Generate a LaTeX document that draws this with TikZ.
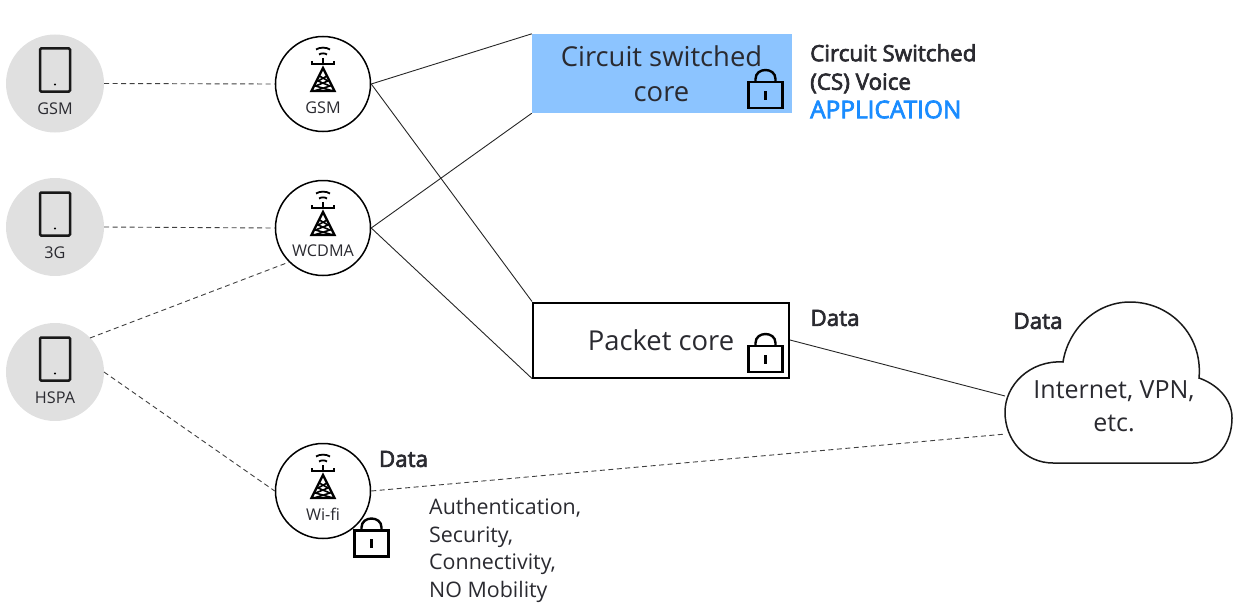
\documentclass[tikz,border=0pt]{standalone}
\usepackage{fontspec}
\setmainfont{Open Sans}
\newfontface\semib[FakeBold=3]{Open Sans}
\definecolor{txt}{HTML}{2A2A30}
\definecolor{csblue}{HTML}{8CC4FF}
\definecolor{appblue}{HTML}{1A8CFF}
\definecolor{phonegray}{HTML}{E0E0E0}
\tikzset{
  x=1pt,y=-1pt,
  phonecirc/.style={circle,fill=phonegray,minimum size=98pt,inner sep=0pt},
  towercirc/.style={circle,draw=black,line width=1.5pt,fill=white,minimum size=95pt,inner sep=0pt},
  smalltxt/.style={font=\fontsize{16.2}{18}\selectfont,text=txt,inner sep=0pt},
  bigtxt/.style={font=\fontsize{27.4}{35}\selectfont,text=txt,align=center,inner sep=0pt},
  midtxt/.style={font=\fontsize{21.4}{27.6}\selectfont,text=txt,align=left,inner sep=0pt},
  cloudtxt/.style={font=\fontsize{25}{33}\selectfont,text=txt,align=center,inner sep=0pt},
  labtxt/.style={font=\fontsize{22.4}{28.5}\selectfont\semib,text=txt,align=left,inner sep=0pt},
  solidlink/.style={draw=black!85,line width=0.9pt},
  dashlink/.style={draw=black!75,line width=0.9pt,dash pattern=on 5pt off 3.5pt},
  phoneicon/.pic={
    \draw[black!90,line width=2.5pt,rounded corners=1.2pt] (-15,-21.5) rectangle (15,21.5);
    \fill[black] (0,14.5) circle (1.1);
  },
  towericon/.pic={
    \draw[black,line width=1.8pt] (-7,-34.5) .. controls (-3,-37) and (3,-37) .. (7,-34.5);
    \draw[black,line width=1.8pt] (-4,-29.5) .. controls (-2,-31) and (2,-31) .. (4,-29.5);
    \draw[black,line width=2.4pt] (-12,-20) -- (12,-20);
    \draw[black,line width=1.6pt] (-11,-23) -- (-11,-20) (11,-23) -- (11,-20) (0,-26) -- (0,-20);
    \draw[black,line width=2.4pt,line join=miter] (0,-16) -- (-11.5,7) -- (11.5,7) -- cycle;
    \draw[black,line width=1.6pt] (-3.5,-8) -- (5,-3) -- (-7.5,2) -- (10,7) (4,-8) -- (-5,-3) -- (7,2) -- (-9,7);
  },
  lockicon/.pic={
    \draw[black,line width=2.4pt] (-10,-13) -- (-10,-16) .. controls (-10,-28) and (10,-28) .. (10,-16) -- (10,-13);
    \draw[black,line width=2.6pt] (-17,-13) rectangle (17,13);
    \fill[black] (-1.8,-4.5) rectangle (1.8,4.5);
  }
}
\begin{document}
\begin{tikzpicture}
\useasboundingbox (0,0) rectangle (1236,602);
% boxes
\node[fill=csblue,minimum width=260pt,minimum height=79pt,inner sep=0pt] (cs) at (662,73.5) {};
\node[draw=black,fill=white,line width=2pt,minimum width=256pt,minimum height=75pt,inner sep=0pt] (pk) at (661,340) {};
\node[bigtxt] (cstext) at (661.5,74) {Circuit switched\\core};
\node[bigtxt] (pktext) at (661,340.5) {Packet core};
% phones
\node[phonecirc] (p1) at (55,83.5) {};
\node[phonecirc] (p2) at (55,227) {};
\node[phonecirc] (p3) at (55,372) {};
\pic at (55,70) {phoneicon};
\pic at (55,214) {phoneicon};
\pic at (55,359) {phoneicon};
\node[smalltxt] (p1t) at (55,108.5) {GSM};
\node[smalltxt] (p2t) at (55,253) {3G};
\node[smalltxt] (p3t) at (55,397.5) {HSPA};
% towers
\node[towercirc] (t1) at (323,84) {};
\node[towercirc] (t2) at (323,228) {};
\node[towercirc] (t3) at (323,491) {};
\pic at (323,84) {towericon};
\pic at (323,228) {towericon};
\pic at (323,491) {towericon};
\node[smalltxt] (t1t) at (323,107.5) {GSM};
\node[smalltxt] (t2t) at (323,251) {WCDMA};
\node[smalltxt] (t3t) at (323,514.5) {Wi-fi};
% cloud
\draw[black!90,line width=1.5pt,fill=white]
  (1053,463) -- (1193,463)
  .. controls (1218,463) and (1232,442) .. (1232,418)
  .. controls (1232,398) and (1216,384) .. (1199,378)
  .. controls (1203,335) and (1170,302) .. (1130,302)
  .. controls (1095,302) and (1068,330) .. (1063,362)
  .. controls (1030,360) and (1005,385) .. (1005,412)
  .. controls (1005,440) and (1025,463) .. (1053,463) -- cycle;
\node[cloudtxt] (cl) at (1114,406.5) {Internet, VPN,\\etc.};
\coordinate (clA) at (1005,396);
\coordinate (clB) at (1006,434);
\coordinate (h1) at (90,338);
\coordinate (h2) at (104,372);
% connectors
\draw[solidlink] (t1.east) -- (cs.north west);
\draw[solidlink] (t1.east) -- (pk.north west);
\draw[solidlink] (t2.east) -- (cs.south west);
\draw[solidlink] (t2.east) -- (pk.south west);
\draw[solidlink] (pk.east) -- (clA);
\draw[dashlink] (p1.east) -- (t1.west);
\draw[dashlink] (p2.east) -- (t2.west);
\draw[dashlink] (h1) -- (t2.south west);
\draw[dashlink] (h2) -- (t3.west);
\draw[dashlink] (t3.east) -- (clB);
% locks
\pic at (765.5,95) {lockicon};
\pic at (765.5,359) {lockicon};
\pic at (371.5,543.5) {lockicon};
% labels
\node[labtxt,anchor=north west] (lab1) at (810,44) {Circuit Switched\\(CS) Voice\\\textcolor{appblue}{\fontsize{24.4}{28.5}\selectfont APPLICATION}};
\node[labtxt] (d1) at (835,318) {Data};
\node[labtxt] (d2) at (1038,321) {Data};
\node[labtxt] (d3) at (403.5,459) {Data};
\node[midtxt,anchor=north west] (auth) at (429,498) {Authentication,\\Security,\\Connectivity,\\NO Mobility};
\end{tikzpicture}
\end{document}
